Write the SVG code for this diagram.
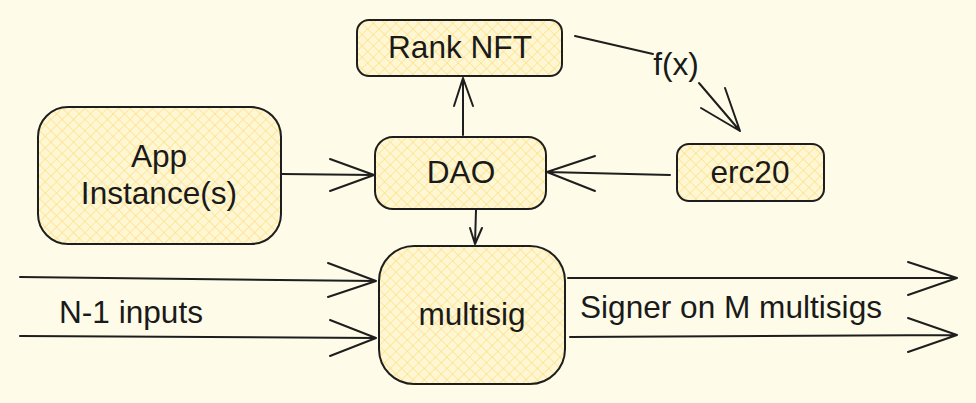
<svg xmlns="http://www.w3.org/2000/svg" width="976" height="403" viewBox="0 0 976 403">
<defs>
<pattern id="hatch" width="8" height="8" patternUnits="userSpaceOnUse" patternTransform="rotate(45)">
<rect width="8" height="8" fill="#fff7d4"/>
<line x1="0" y1="0" x2="0" y2="8" stroke="#fbdf80" stroke-width="1.3"/>
<line x1="0" y1="0" x2="8" y2="0" stroke="#fbdf80" stroke-width="1.3"/>
</pattern>
</defs>
<style>
.box{fill:url(#hatch);stroke:#1e1e1e;stroke-width:2}
.t{font-family:"Liberation Sans",Arial,sans-serif;font-size:31.6px;fill:#1a1a1a}
.c{text-anchor:middle}
.ln{fill:none;stroke:#1e1e1e;stroke-width:2;stroke-linecap:round;stroke-linejoin:round}
</style>
<rect width="976" height="403" fill="#fefce8"/>
<g id="rank-nft">
<rect class="box" x="357" y="20" width="205" height="56" rx="12"/>
<text class="t c" x="460" y="58">Rank NFT</text>
</g>
<g id="app-instances">
<rect class="box" x="38" y="107" width="243" height="137" rx="30"/>
<text class="t c" x="159" y="167">App</text>
<text class="t c" x="159" y="204">Instance(s)</text>
</g>
<g id="dao">
<rect class="box" x="375" y="137" width="171" height="72" rx="18"/>
<text class="t c" x="461" y="183">DAO</text>
</g>
<g id="erc20">
<rect class="box" x="677" y="144" width="147" height="57" rx="12"/>
<text class="t c" x="750" y="183">erc20</text>
</g>
<g id="multisig">
<rect class="box" x="379" y="246" width="186" height="138" rx="35"/>
<text class="t c" x="472" y="325">multisig</text>
</g>
<g id="connectors">
<path class="ln" d="M282 174 L374 175 M330 159 L374 175 L330 191"/>
<path class="ln" d="M670 175 L547 172 M595 156 L547 172 L595 191"/>
<path class="ln" d="M463 135 L463 78 M454 106 L463 78 L473 106"/>
<path class="ln" d="M476 210 L475 244 M470 228 L475 244 L482 228"/>
<path class="ln" d="M575 36 L653 54 M699 83 L740 131 M725 88 L740 131 L701 108"/>
<path class="ln" d="M20 277 L376 281 M328 263 L376 281 L328 297"/>
<path class="ln" d="M20 336 L376 338 M330 320 L376 338 L330 356"/>
<path class="ln" d="M568 278 L957 278 M908 262 L957 278 L908 295"/>
<path class="ln" d="M570 337 L957 335 M908 318 L957 335 L908 352"/>
</g>
<text class="t c" x="676" y="75">f(x)</text>
<text class="t" x="59" y="323">N-1 inputs</text>
<text class="t" x="580" y="318">Signer on M multisigs</text>
</svg>
